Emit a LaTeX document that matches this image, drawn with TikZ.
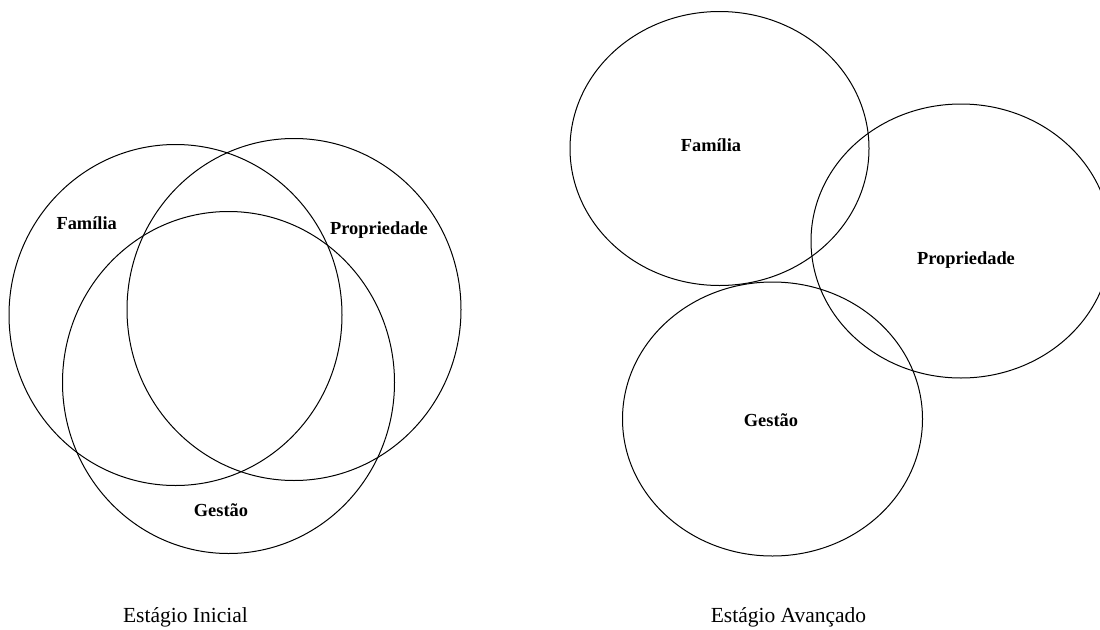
\documentclass[tikz,border=0pt]{standalone}
\usepackage{fontspec}
\setmainfont{Liberation Serif}
\usepackage{tikz}
\usetikzlibrary{shapes.geometric}
\usetikzlibrary{positioning}
\tikzset{every picture/.style={line width=1pt},
  bubble/.style={ellipse, draw, inner sep=0pt},
  tag/.style={font=\fontsize{18.4}{22}\selectfont\bfseries},
  caption/.style={font=\fontsize{21.5}{26}\selectfont, anchor=base}}

\begin{document}
\begin{tikzpicture}[x=1pt,y=-1pt]
\useasboundingbox (0,0) rectangle (1100,629);
\clip (0,0) rectangle (1100,629);

\node (fam1) [bubble, minimum width=333pt, minimum height=341pt] at (175.5,315) {};
\node (prop1) [bubble, minimum width=334pt, minimum height=342pt] at (294,309.5) {};
\node (gest1) [bubble, minimum width=332pt, minimum height=342pt] at (228.5,382.5) {};
\node (tfam1) [tag] at (86.7,222.7) {Família};
\node (tprop1) [tag] at (379,230) {Propriedade};
\node (tgest1) [tag] at (221,510) {Gestão};

\node (fam2) [bubble, minimum width=299pt, minimum height=274pt] at (719.5,148.5) {};
\node (prop2) [bubble, minimum width=300pt, minimum height=274pt] at (961,241) {};
\node (gest2) [bubble, minimum width=300pt, minimum height=274pt] at (772.5,419) {};
\node (tfam2) [tag] at (711,145) {Família};
\node (tprop2) [tag] at (966,260) {Propriedade};
\node (tgest2) [tag] at (771,420) {Gestão};

\node (cap1) [caption] at (185.5,622) {Estágio Inicial};
\node (cap2) [caption] at (788.5,622) {Estágio Avançado};
\end{tikzpicture}
\end{document}
